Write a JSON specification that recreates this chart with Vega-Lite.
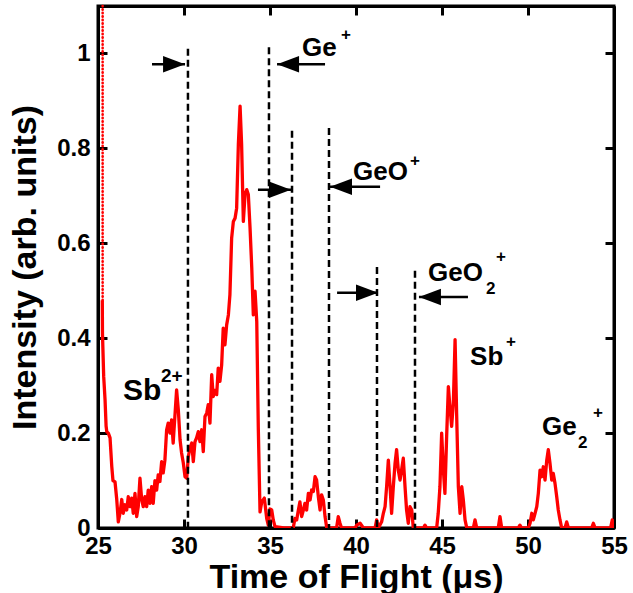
{
  "$schema": "https://vega.github.io/schema/vega-lite/v6.json",
  "width": 516,
  "height": 522,
  "autosize": {"type": "none"},
  "padding": {"left": 98, "top": 6, "right": 19, "bottom": 65},
  "background": "white",
  "config": {
    "view": {"stroke": "black", "strokeWidth": 3},
    "font": "Liberation Sans",
    "axis": {
      "domain": true, "domainColor": "black", "domainWidth": 3, "tickColor": "black", "tickWidth": 3, "tickSize": -9,
      "labelFont": "Liberation Sans", "labelFontWeight": "bold", "labelFontSize": 24, "labelColor": "black", "labelFlush": false,
      "titleFont": "Liberation Sans", "titleFontWeight": "bold", "titleFontSize": 34, "titleColor": "black",
      "grid": false, "zindex": 1
    }
  },
  "datasets": {
    "curve": [
      {"t": 25.25, "v": 0.48}, {"t": 25.26, "v": 0.41}, {"t": 25.33, "v": 0.32}, {"t": 25.41, "v": 0.27},
      {"t": 25.47, "v": 0.215}, {"t": 25.51, "v": 0.203}, {"t": 25.6, "v": 0.2}, {"t": 25.7, "v": 0.19},
      {"t": 25.8, "v": 0.13}, {"t": 25.87, "v": 0.1}, {"t": 25.99, "v": 0.097}, {"t": 26.09, "v": 0.06},
      {"t": 26.18, "v": 0.013}, {"t": 26.28, "v": 0.031}, {"t": 26.38, "v": 0.06}, {"t": 26.47, "v": 0.031},
      {"t": 26.57, "v": 0.049}, {"t": 26.67, "v": 0.038}, {"t": 26.76, "v": 0.066}, {"t": 26.86, "v": 0.045},
      {"t": 26.96, "v": 0.063}, {"t": 27.05, "v": 0.031}, {"t": 27.15, "v": 0.073}, {"t": 27.25, "v": 0.024},
      {"t": 27.34, "v": 0.045}, {"t": 27.44, "v": 0.105}, {"t": 27.54, "v": 0.06}, {"t": 27.63, "v": 0.045},
      {"t": 27.73, "v": 0.066}, {"t": 27.83, "v": 0.045}, {"t": 27.92, "v": 0.08}, {"t": 28.02, "v": 0.052},
      {"t": 28.12, "v": 0.087}, {"t": 28.21, "v": 0.052}, {"t": 28.31, "v": 0.1}, {"t": 28.41, "v": 0.08},
      {"t": 28.5, "v": 0.112}, {"t": 28.6, "v": 0.098}, {"t": 28.7, "v": 0.14}, {"t": 28.79, "v": 0.116},
      {"t": 28.89, "v": 0.143}, {"t": 28.99, "v": 0.207}, {"t": 29.08, "v": 0.221}, {"t": 29.18, "v": 0.2},
      {"t": 29.28, "v": 0.228}, {"t": 29.37, "v": 0.179}, {"t": 29.47, "v": 0.235}, {"t": 29.57, "v": 0.291},
      {"t": 29.67, "v": 0.249}, {"t": 29.77, "v": 0.186}, {"t": 29.86, "v": 0.158}, {"t": 29.96, "v": 0.137},
      {"t": 30.06, "v": 0.108}, {"t": 30.16, "v": 0.105}, {"t": 30.25, "v": 0.15}, {"t": 30.35, "v": 0.169},
      {"t": 30.45, "v": 0.179}, {"t": 30.54, "v": 0.14}, {"t": 30.64, "v": 0.182}, {"t": 30.73, "v": 0.19},
      {"t": 30.83, "v": 0.203}, {"t": 30.93, "v": 0.182}, {"t": 31.03, "v": 0.207}, {"t": 31.12, "v": 0.161},
      {"t": 31.22, "v": 0.235}, {"t": 31.32, "v": 0.242}, {"t": 31.41, "v": 0.26}, {"t": 31.51, "v": 0.221},
      {"t": 31.61, "v": 0.323}, {"t": 31.7, "v": 0.277}, {"t": 31.8, "v": 0.29}, {"t": 31.9, "v": 0.281},
      {"t": 31.99, "v": 0.337}, {"t": 32.09, "v": 0.309}, {"t": 32.19, "v": 0.344}, {"t": 32.28, "v": 0.421},
      {"t": 32.38, "v": 0.386}, {"t": 32.48, "v": 0.428}, {"t": 32.58, "v": 0.449}, {"t": 32.67, "v": 0.492},
      {"t": 32.77, "v": 0.611}, {"t": 32.87, "v": 0.646}, {"t": 32.97, "v": 0.653}, {"t": 33.06, "v": 0.674},
      {"t": 33.16, "v": 0.808}, {"t": 33.26, "v": 0.889}, {"t": 33.35, "v": 0.808}, {"t": 33.45, "v": 0.646},
      {"t": 33.55, "v": 0.703}, {"t": 33.65, "v": 0.713}, {"t": 33.74, "v": 0.703}, {"t": 33.84, "v": 0.632},
      {"t": 33.94, "v": 0.548}, {"t": 34.03, "v": 0.449}, {"t": 34.13, "v": 0.499}, {"t": 34.23, "v": 0.435},
      {"t": 34.32, "v": 0.21}, {"t": 34.42, "v": 0.034}, {"t": 34.52, "v": 0.055}, {"t": 34.67, "v": 0.063},
      {"t": 34.81, "v": 0.02}, {"t": 34.9, "v": 0.006}, {"t": 35.0, "v": 0.04}, {"t": 35.1, "v": 0.038},
      {"t": 35.19, "v": 0.017}, {"t": 35.29, "v": 0.003}, {"t": 35.8, "v": 0.0}, {"t": 36.35, "v": 0.0},
      {"t": 36.45, "v": 0.02}, {"t": 36.55, "v": 0.017}, {"t": 36.65, "v": 0.038}, {"t": 36.74, "v": 0.055},
      {"t": 36.84, "v": 0.024}, {"t": 36.94, "v": 0.038}, {"t": 37.03, "v": 0.052}, {"t": 37.13, "v": 0.038},
      {"t": 37.23, "v": 0.073}, {"t": 37.33, "v": 0.059}, {"t": 37.42, "v": 0.08}, {"t": 37.52, "v": 0.077},
      {"t": 37.62, "v": 0.108}, {"t": 37.71, "v": 0.101}, {"t": 37.81, "v": 0.066}, {"t": 37.91, "v": 0.038},
      {"t": 38.0, "v": 0.07}, {"t": 38.1, "v": 0.059}, {"t": 38.2, "v": 0.024}, {"t": 38.3, "v": 0.0},
      {"t": 38.87, "v": 0.0}, {"t": 38.97, "v": 0.024}, {"t": 39.07, "v": 0.01}, {"t": 39.16, "v": 0.0},
      {"t": 39.95, "v": 0.0}, {"t": 40.04, "v": 0.006}, {"t": 40.24, "v": 0.01}, {"t": 40.43, "v": 0.0},
      {"t": 41.11, "v": 0.0}, {"t": 41.2, "v": 0.017}, {"t": 41.3, "v": 0.0}, {"t": 41.49, "v": 0.013},
      {"t": 41.59, "v": 0.031}, {"t": 41.69, "v": 0.045}, {"t": 41.78, "v": 0.087}, {"t": 41.88, "v": 0.143},
      {"t": 41.98, "v": 0.087}, {"t": 42.07, "v": 0.031}, {"t": 42.17, "v": 0.087}, {"t": 42.27, "v": 0.136},
      {"t": 42.36, "v": 0.165}, {"t": 42.46, "v": 0.122}, {"t": 42.56, "v": 0.101}, {"t": 42.65, "v": 0.122},
      {"t": 42.75, "v": 0.147}, {"t": 42.85, "v": 0.087}, {"t": 42.94, "v": 0.038}, {"t": 43.04, "v": 0.01},
      {"t": 43.14, "v": 0.045}, {"t": 43.24, "v": 0.038}, {"t": 43.33, "v": 0.0}, {"t": 43.92, "v": 0.0},
      {"t": 44.01, "v": 0.006}, {"t": 44.11, "v": 0.0}, {"t": 44.69, "v": 0.0}, {"t": 44.78, "v": 0.031},
      {"t": 44.88, "v": 0.087}, {"t": 44.98, "v": 0.2}, {"t": 45.08, "v": 0.122}, {"t": 45.17, "v": 0.073},
      {"t": 45.27, "v": 0.193}, {"t": 45.37, "v": 0.298}, {"t": 45.46, "v": 0.256}, {"t": 45.56, "v": 0.214},
      {"t": 45.66, "v": 0.263}, {"t": 45.76, "v": 0.397}, {"t": 45.85, "v": 0.242}, {"t": 45.95, "v": 0.087},
      {"t": 46.05, "v": 0.031}, {"t": 46.15, "v": 0.087}, {"t": 46.24, "v": 0.059}, {"t": 46.34, "v": 0.017},
      {"t": 46.44, "v": 0.0}, {"t": 46.82, "v": 0.0}, {"t": 46.92, "v": 0.017}, {"t": 47.02, "v": 0.0},
      {"t": 48.27, "v": 0.0}, {"t": 48.37, "v": 0.024}, {"t": 48.47, "v": 0.0}, {"t": 49.43, "v": 0.0},
      {"t": 49.53, "v": 0.006}, {"t": 49.63, "v": 0.0}, {"t": 50.02, "v": 0.0}, {"t": 50.12, "v": 0.01},
      {"t": 50.22, "v": 0.031}, {"t": 50.31, "v": 0.017}, {"t": 50.41, "v": 0.031}, {"t": 50.51, "v": 0.045},
      {"t": 50.6, "v": 0.073}, {"t": 50.7, "v": 0.122}, {"t": 50.8, "v": 0.108}, {"t": 50.89, "v": 0.129},
      {"t": 50.99, "v": 0.101}, {"t": 51.09, "v": 0.143}, {"t": 51.18, "v": 0.165}, {"t": 51.28, "v": 0.136},
      {"t": 51.38, "v": 0.101}, {"t": 51.47, "v": 0.115}, {"t": 51.57, "v": 0.094}, {"t": 51.67, "v": 0.066},
      {"t": 51.76, "v": 0.038}, {"t": 51.86, "v": 0.017}, {"t": 51.96, "v": 0.0}, {"t": 52.15, "v": 0.0},
      {"t": 52.25, "v": 0.013}, {"t": 52.35, "v": 0.0}, {"t": 53.7, "v": 0.0}, {"t": 53.8, "v": 0.01},
      {"t": 53.9, "v": 0.0}, {"t": 54.8, "v": 0.0}, {"t": 54.9, "v": 0.017}, {"t": 55.0, "v": 0.0}
    ],
    "lead": [{"t": 25.27, "lo": 0.48, "hi": 1.1}],
    "markers": [
      {"t": 30.23, "top": 1.01}, {"t": 34.94, "top": 1.013}, {"t": 36.28, "top": 0.837},
      {"t": 38.43, "top": 0.843}, {"t": 41.22, "top": 0.55}, {"t": 43.43, "top": 0.542}
    ],
    "arrows": [
      {"tail": 28.14, "tip": 30.06, "v": 0.977, "dir": "right"},
      {"tail": 38.2, "tip": 35.41, "v": 0.977, "dir": "left"},
      {"tail": 34.3, "tip": 36.22, "v": 0.713, "dir": "right"},
      {"tail": 41.4, "tip": 38.49, "v": 0.719, "dir": "left"},
      {"tail": 38.9, "tip": 41.28, "v": 0.496, "dir": "right"},
      {"tail": 46.51, "tip": 43.66, "v": 0.487, "dir": "left"}
    ],
    "labels": [
      {"t": 36.86, "v": 0.994, "text": "Ge"},
      {"t": 39.83, "v": 0.734, "text": "GeO"},
      {"t": 44.19, "v": 0.521, "text": "GeO"},
      {"t": 46.63, "v": 0.344, "text": "Sb"},
      {"t": 50.81, "v": 0.196, "text": "Ge"}
    ],
    "labelsBig": [{"t": 26.45, "v": 0.27, "text": "Sb"}],
    "scripts": [
      {"t": 39.13, "v": 1.039, "text": "+"},
      {"t": 43.14, "v": 0.774, "text": "+"},
      {"t": 47.56, "v": 0.504, "text": "2"},
      {"t": 48.14, "v": 0.571, "text": "+"},
      {"t": 48.72, "v": 0.391, "text": "+"},
      {"t": 52.91, "v": 0.18, "text": "2"},
      {"t": 53.78, "v": 0.243, "text": "+"}
    ],
    "scriptsBig": [{"t": 28.66, "v": 0.32, "text": "2+"}]
  },
  "resolve": {"axis": {"x": "independent", "y": "independent"}},
  "layer": [
    {
      "data": {"name": "curve"},
      "mark": {"type": "line", "color": "#ff0000", "strokeWidth": 3.3, "strokeJoin": "round", "clip": true},
      "encoding": {
        "x": {"field": "t", "type": "quantitative", "scale": {"domain": [25, 55], "nice": false, "zero": false},
          "axis": {"orient": "bottom", "values": [25, 30, 35, 40, 45, 50, 55], "format": "d", "labelPadding": 15, "domainWidth": 3, "title": "Time of Flight (μs)", "titlePadding": 2}},
        "y": {"field": "v", "type": "quantitative", "scale": {"domain": [0, 1.1], "nice": false, "zero": false},
          "axis": {"orient": "left", "values": [0, 0.2, 0.4, 0.6, 0.8, 1], "format": "~g", "labelPadding": 17, "domainWidth": 3, "title": "Intensity (arb. units)", "titlePadding": 14}}
      }
    },
    {
      "data": {"name": "lead"},
      "mark": {"type": "rule", "color": "#ff0000", "strokeWidth": 2.6, "strokeDash": [0.5, 3], "strokeCap": "round"},
      "encoding": {
        "x": {"field": "t", "type": "quantitative", "scale": {"domain": [25, 55], "nice": false, "zero": false}, "axis": null},
        "y": {"field": "lo", "type": "quantitative", "scale": {"domain": [0, 1.1], "nice": false, "zero": false}, "axis": null},
        "y2": {"field": "hi"}
      }
    },
    {
      "data": {"name": "markers"},
      "mark": {"type": "rule", "color": "black", "strokeWidth": 2.5, "strokeDash": [7, 4]},
      "encoding": {
        "x": {"field": "t", "type": "quantitative", "scale": {"domain": [25, 55], "nice": false, "zero": false},
          "axis": {"orient": "top", "values": [25, 30, 35, 40, 45, 50, 55], "labels": false, "domainWidth": 3, "title": null}},
        "y": {"field": "top", "type": "quantitative", "scale": {"domain": [0, 1.1], "nice": false, "zero": false},
          "axis": {"orient": "right", "values": [0, 0.2, 0.4, 0.6, 0.8, 1], "labels": false, "domainWidth": 3, "title": null}},
        "y2": {"datum": 0}
      }
    },
    {
      "data": {"name": "arrows"},
      "mark": {"type": "rule", "color": "black", "strokeWidth": 2.5},
      "encoding": {
        "x": {"field": "tail", "type": "quantitative", "scale": {"domain": [25, 55], "nice": false, "zero": false}, "axis": null},
        "x2": {"field": "tip"},
        "y": {"field": "v", "type": "quantitative", "scale": {"domain": [0, 1.1], "nice": false, "zero": false}, "axis": null}
      }
    },
    {
      "data": {"name": "arrows"},
      "transform": [{"filter": "datum.dir === 'right'"}],
      "mark": {"type": "point", "shape": "M-2,-0.75L0,0L-2,0.75Z", "size": 484, "filled": true, "color": "black", "opacity": 1, "strokeWidth": 0},
      "encoding": {
        "x": {"field": "tip", "type": "quantitative", "scale": {"domain": [25, 55], "nice": false, "zero": false}, "axis": null},
        "y": {"field": "v", "type": "quantitative", "scale": {"domain": [0, 1.1], "nice": false, "zero": false}, "axis": null}
      }
    },
    {
      "data": {"name": "arrows"},
      "transform": [{"filter": "datum.dir === 'left'"}],
      "mark": {"type": "point", "shape": "M2,-0.75L0,0L2,0.75Z", "size": 484, "filled": true, "color": "black", "opacity": 1, "strokeWidth": 0},
      "encoding": {
        "x": {"field": "tip", "type": "quantitative", "scale": {"domain": [25, 55], "nice": false, "zero": false}, "axis": null},
        "y": {"field": "v", "type": "quantitative", "scale": {"domain": [0, 1.1], "nice": false, "zero": false}, "axis": null}
      }
    },
    {
      "data": {"name": "labels"},
      "mark": {"type": "text", "align": "left", "baseline": "alphabetic", "font": "Liberation Sans", "fontWeight": "bold", "fontSize": 26, "color": "black"},
      "encoding": {
        "x": {"field": "t", "type": "quantitative", "scale": {"domain": [25, 55], "nice": false, "zero": false}, "axis": null},
        "y": {"field": "v", "type": "quantitative", "scale": {"domain": [0, 1.1], "nice": false, "zero": false}, "axis": null},
        "text": {"field": "text"}
      }
    },
    {
      "data": {"name": "labelsBig"},
      "mark": {"type": "text", "align": "left", "baseline": "alphabetic", "font": "Liberation Sans", "fontWeight": "bold", "fontSize": 30, "color": "black"},
      "encoding": {
        "x": {"field": "t", "type": "quantitative", "scale": {"domain": [25, 55], "nice": false, "zero": false}, "axis": null},
        "y": {"field": "v", "type": "quantitative", "scale": {"domain": [0, 1.1], "nice": false, "zero": false}, "axis": null},
        "text": {"field": "text"}
      }
    },
    {
      "data": {"name": "scripts"},
      "mark": {"type": "text", "align": "left", "baseline": "middle", "font": "Liberation Sans", "fontWeight": "bold", "fontSize": 17, "color": "black"},
      "encoding": {
        "x": {"field": "t", "type": "quantitative", "scale": {"domain": [25, 55], "nice": false, "zero": false}, "axis": null},
        "y": {"field": "v", "type": "quantitative", "scale": {"domain": [0, 1.1], "nice": false, "zero": false}, "axis": null},
        "text": {"field": "text"}
      }
    },
    {
      "data": {"name": "scriptsBig"},
      "mark": {"type": "text", "align": "left", "baseline": "middle", "font": "Liberation Sans", "fontWeight": "bold", "fontSize": 19, "color": "black"},
      "encoding": {
        "x": {"field": "t", "type": "quantitative", "scale": {"domain": [25, 55], "nice": false, "zero": false}, "axis": null},
        "y": {"field": "v", "type": "quantitative", "scale": {"domain": [0, 1.1], "nice": false, "zero": false}, "axis": null},
        "text": {"field": "text"}
      }
    }
  ]
}
